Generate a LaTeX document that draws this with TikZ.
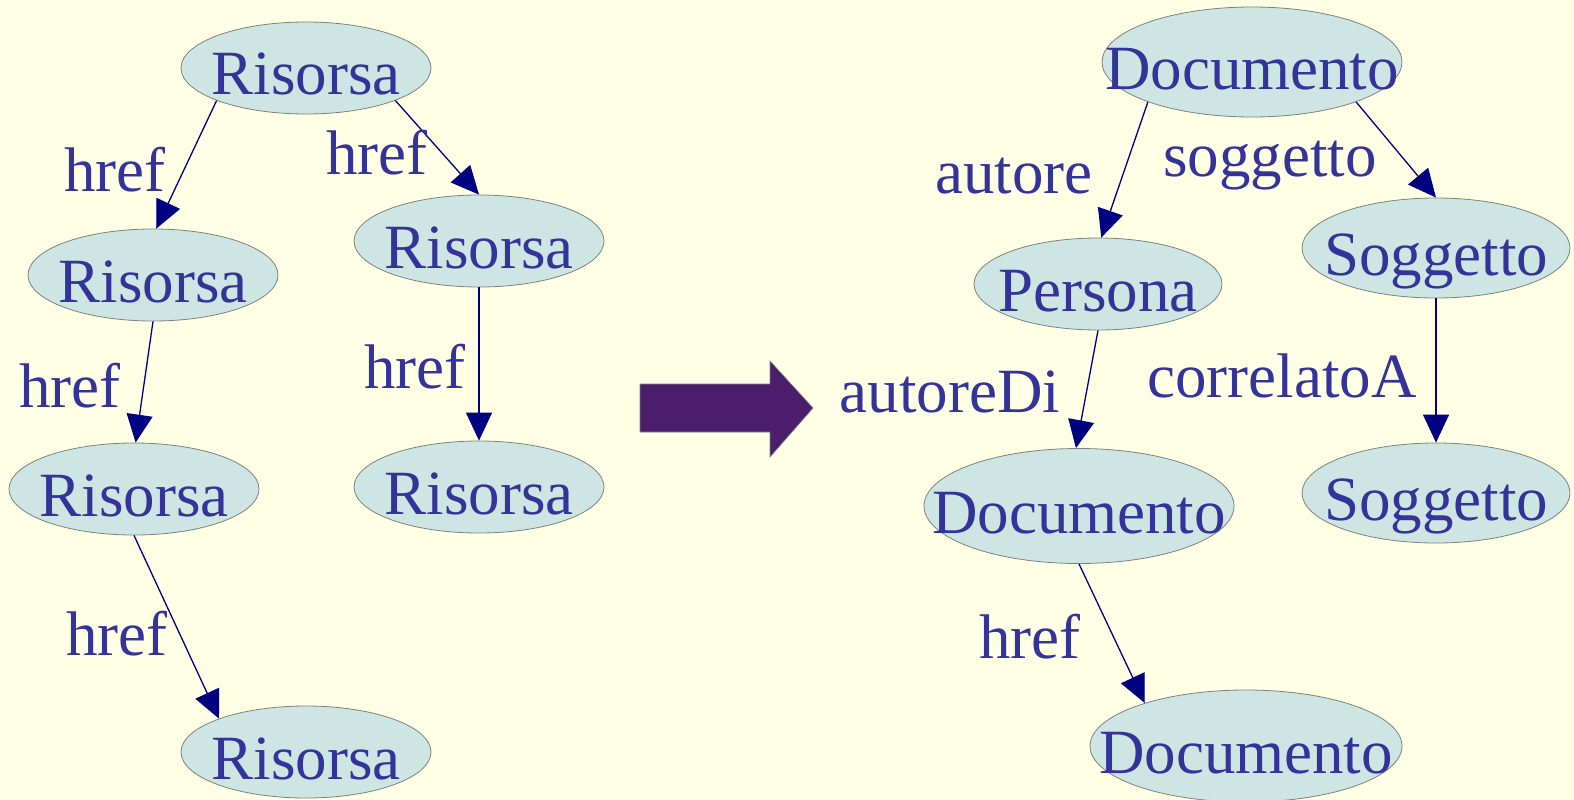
\documentclass[tikz,border=0pt]{standalone}
\usepackage{fontspec}
\setmainfont{Liberation Serif}
\usetikzlibrary{shapes.geometric,arrows.meta}
\definecolor{sfondo}{HTML}{FFFFE6}
\definecolor{riempi}{HTML}{CDE6E4}
\definecolor{testo}{HTML}{333399}
\definecolor{freccia}{HTML}{000080}
\definecolor{viola}{HTML}{4A1E6A}
\newcommand{\voce}[1]{\makebox[0pt]{#1}}
\begin{document}
\begin{tikzpicture}[x=1pt,y=-1pt,
    nodo/.style={ellipse, draw=gray, line width=0.8pt, fill=riempi, text=testo, inner sep=0pt,
                 text height=54pt, text depth=0pt, font=\fontsize{63}{70}\selectfont},
    arco/.style={draw=freccia, line width=1.3pt, -{Triangle[length=28pt,width=26pt]}},
    etichetta/.style={anchor=base, text=testo, inner sep=0pt, font=\fontsize{63}{70}\selectfont}]
                    %Sfondo
    \fill[sfondo] (0,0) rectangle (1574,800);
    \useasboundingbox (0,0) rectangle (1574,800);
                    %Grafo di sinistra
    \node[nodo, minimum width=250pt, minimum height=92pt] (r1) at (306,68) {\voce{Risorsa}};
    \node[nodo, minimum width=250pt, minimum height=92pt] (r2) at (153,275) {\voce{Risorsa}};
    \node[nodo, minimum width=250pt, minimum height=92pt] (r3) at (479,241) {\voce{Risorsa}};
    \node[nodo, minimum width=250pt, minimum height=92pt] (r4) at (134,489) {\voce{Risorsa}};
    \node[nodo, minimum width=250pt, minimum height=92pt] (r5) at (479,487) {\voce{Risorsa}};
    \node[nodo, minimum width=250pt, minimum height=92pt] (r6) at (306,752) {\voce{Risorsa}};
    \draw[arco] (r1.200) -- (r2.86);
    \draw[arco] (r1.340) -- (r3.north);
    \draw[arco] (r2.south) -- (r4.88);
    \draw[arco] (r3.south) -- (r5.north);
    \draw[arco] (r4.south) -- (r6.159);
    \node[etichetta] (e1) at (115,191) {href};
    \node[etichetta] (e2) at (377,174) {href};
    \node[etichetta] (e3) at (70,407) {href};
    \node[etichetta] (e4) at (415,388) {href};
    \node[etichetta] (e5) at (117,655) {href};
                    %Freccia centrale
    \draw[gray, line width=0.6pt, fill=viola] (640,384) -- (770,384) -- (770,361) -- (813,408)
        -- (770,457) -- (770,432) -- (640,432) -- cycle;
                    %Grafo di destra
    \node[nodo, minimum width=300pt, minimum height=110pt] (d1) at (1252,62) {\voce{Documento}};
    \node[nodo, minimum width=248pt, minimum height=92pt] (p1) at (1098,284) {\voce{Persona}};
    \node[nodo, minimum width=268pt, minimum height=100pt] (s1) at (1436,248) {\voce{Soggetto}};
    \node[nodo, minimum width=310pt, minimum height=115pt] (d2) at (1079,506) {\voce{Documento}};
    \node[nodo, minimum width=268pt, minimum height=100pt] (s2) at (1436,493) {\voce{Soggetto}};
    \node[nodo, minimum width=312pt, minimum height=112pt] (d3) at (1246,746) {\voce{Documento}};
    \draw[arco] (d1.201) -- (p1.86);
    \draw[arco] (d1.339) -- (s1.north);
    \draw[arco] (p1.south) -- (d2.93);
    \draw[arco] (s1.south) -- (s2.north);
    \draw[arco] (d2.south) -- (d3.157);
    \node[etichetta] (e6) at (1014,193) {autore};
    \node[etichetta] (e7) at (1270,176) {soggetto};
    \node[etichetta] (e8) at (950,412) {autoreDi};
    \node[etichetta] (e9) at (1282,397) {correlatoA};
    \node[etichetta] (e10) at (1030,658) {href};
\end{tikzpicture}
\end{document}
